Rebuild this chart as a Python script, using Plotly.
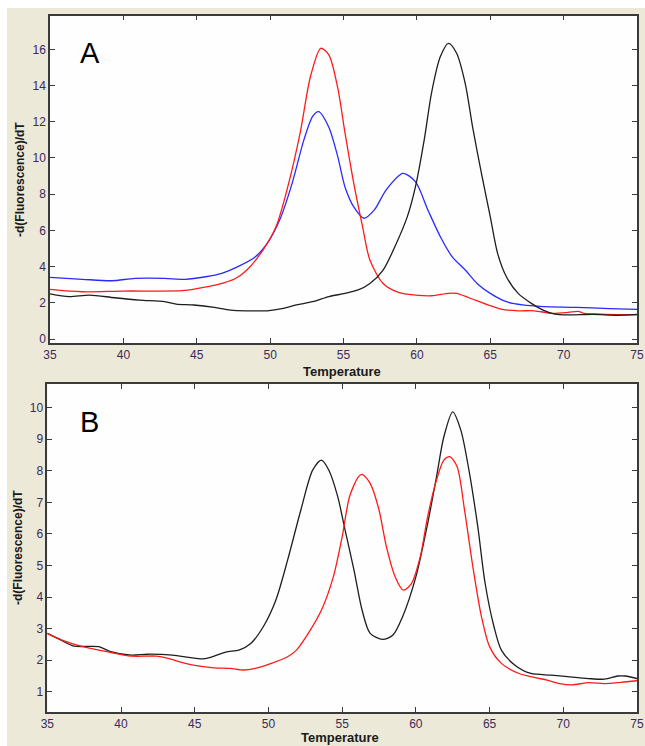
import plotly.graph_objects as go

# ---------------- Panel A data ----------------
a_red_t = [35, 37.2, 40, 44, 45, 46.4, 47.6, 48.4, 49.5, 50.4, 51.2, 52.05, 52.75, 53.45, 54.0, 54.6, 55.1,
           55.7, 56.3, 56.8, 57.7, 58.8, 59.9, 61.0, 62.15, 62.7, 63.55, 64.7, 65.8, 66.9, 68.0, 69.2, 70.3,
           71.0, 71.4, 72.5, 75]
a_red_v = [2.74, 2.61, 2.65, 2.67, 2.78, 3.0, 3.33, 3.8, 4.9, 6.2, 8.4, 11.4, 14.5, 16.06, 15.7, 13.9, 11.4,
           8.6, 6.2, 4.36, 3.07, 2.56, 2.43, 2.39, 2.52, 2.52, 2.28, 1.93, 1.64, 1.56, 1.56, 1.42, 1.47,
           1.53, 1.42, 1.38, 1.34]

a_blue_t = [35, 37.2, 39.2, 40.8, 42.8, 44.2, 45.6, 46.7, 47.8, 49.0, 49.8, 50.65, 51.5, 52.3, 52.9, 53.3,
            54.0, 54.6, 55.1, 55.7, 56.4, 57.1, 57.9, 59.05, 59.9, 60.75, 61.6, 62.4, 63.3, 64.1, 65.0, 66.1,
            67.2, 68.6, 70.85, 73.1, 75]
a_blue_v = [3.41, 3.30, 3.22, 3.35, 3.35, 3.30, 3.44, 3.63, 4.0, 4.55, 5.28, 6.57, 8.6, 11.0, 12.3, 12.56,
            11.7, 10.1, 8.4, 7.3, 6.67, 7.13, 8.23, 9.15, 8.69, 7.13, 5.65, 4.55, 3.81, 3.07, 2.52, 2.06,
            1.88, 1.79, 1.75, 1.68, 1.64]

a_black_t = [35, 36.3, 37.7, 39.4, 41.1, 42.8, 43.6, 44.8, 46.2, 47.3, 48.4, 49.8, 50.9, 51.8, 52.9, 54.0,
             55.1, 56.0, 56.8, 57.7, 58.5, 59.35, 59.9, 60.5, 61.0, 61.6, 62.15, 62.7, 63.3, 63.8, 64.4,
             65.0, 65.5, 66.1, 66.9, 67.8, 68.6, 69.4, 70.3, 72.0, 73.65, 75]
a_black_v = [2.49, 2.34, 2.43, 2.28, 2.15, 2.06, 1.93, 1.88, 1.75, 1.60, 1.56, 1.56, 1.69, 1.88, 2.06, 2.34,
             2.52, 2.71, 3.07, 3.81, 5.1, 6.76, 8.4, 11.0, 13.6, 15.6, 16.33, 15.8, 14.1, 11.7, 9.15,
             6.76, 4.73, 3.44, 2.52, 1.97, 1.60, 1.38, 1.33, 1.36, 1.31, 1.36]

# ---------------- Panel B data ----------------
b_black_t = [35, 35.7, 36.8, 38.5, 39.3, 40.7, 41.8, 43.5, 44.6, 45.5, 46.0, 47.1, 48.0, 48.8, 49.65, 50.5,
             51.3, 52.2, 53.0, 53.6, 54.1, 54.7, 55.2, 55.8, 56.35, 56.9, 57.75, 58.45, 59.1, 60.0, 60.8,
             61.4, 61.9, 62.5, 63.05, 63.6, 64.2, 64.7, 65.3, 65.8, 66.7, 67.8, 69.2, 70.3, 71.7, 72.8,
             73.7, 74.2, 75]
b_black_v = [2.85, 2.69, 2.45, 2.43, 2.27, 2.16, 2.19, 2.16, 2.09, 2.04, 2.08, 2.26, 2.32, 2.53, 3.06, 3.9,
             5.17, 6.76, 8.02, 8.34, 8.02, 7.18, 6.12, 4.86, 3.59, 2.85, 2.66, 2.80, 3.38, 4.64, 6.33,
             7.81, 9.08, 9.87, 9.29, 8.02, 6.23, 4.43, 3.06, 2.32, 1.85, 1.58, 1.53, 1.48, 1.42, 1.40,
             1.50, 1.50, 1.42]

b_red_t = [35, 36.0, 37.4, 39.05, 40.7, 42.4, 43.2, 44.1, 45.2, 46.3, 47.4, 48.3, 49.1, 50.2, 51.3, 51.9,
           52.7, 53.6, 54.4, 55.0, 55.5, 56.1, 56.35, 56.9, 57.5, 58.0, 58.6, 59.15, 59.7, 60.3, 60.8, 61.4,
           61.9, 62.3, 62.8, 63.3, 63.9, 64.45, 65.0, 65.8, 67.0, 68.1, 68.9, 69.75, 70.6, 71.7, 72.8,
           73.9, 75]
b_red_v = [2.85, 2.64, 2.43, 2.27, 2.13, 2.13, 2.06, 1.93, 1.82, 1.76, 1.74, 1.69, 1.74, 1.90, 2.11, 2.32,
           2.85, 3.59, 4.64, 5.91, 7.18, 7.81, 7.89, 7.6, 6.76, 5.6, 4.64, 4.22, 4.43, 5.28, 6.55, 7.71,
           8.34, 8.45, 8.13, 6.76, 4.86, 3.38, 2.43, 1.90, 1.58, 1.45, 1.37, 1.26, 1.22, 1.29, 1.26,
           1.30, 1.35]

x_ticks = [35, 40, 45, 50, 55, 60, 65, 70, 75]
a_y_ticks = [0, 2, 4, 6, 8, 10, 12, 14, 16]
b_y_ticks = [1, 2, 3, 4, 5, 6, 7, 8, 9, 10]

W, H = 645, 746
BEIGE = "#ECE9D8"
RED = "#ff1a1a"
BLUE = "#2a2aff"
BLACK = "#1e1e1e"
TICKCOL = "#3b2a5e"
FONT = "Liberation Sans Narrow, Liberation Sans, Arial, sans-serif"

fig = go.Figure()

def add(t, v, color, xa, ya):
    fig.add_trace(go.Scatter(x=t, y=v, mode="lines", xaxis=xa, yaxis=ya,
                             line=dict(color=color, width=1.3, shape="spline", smoothing=0.8),
                             showlegend=False, hoverinfo="skip"))

add(a_blue_t, a_blue_v, BLUE, "x", "y")
add(a_red_t, a_red_v, RED, "x", "y")
add(a_black_t, a_black_v, BLACK, "x", "y")
add(b_black_t, b_black_v, BLACK, "x2", "y2")
add(b_red_t, b_red_v, RED, "x2", "y2")

def px_x(p):
    return p / W

def px_y(p):
    return 1 - p / H

axis_common = dict(showgrid=False, zeroline=False, showline=True, mirror="ticks",
                   linecolor="#3a3a3a", linewidth=1.5, ticks="inside", ticklen=5,
                   tickcolor="#3a3a3a", tickwidth=1.2,
                   tickfont=dict(family=FONT, size=12, color=TICKCOL), automargin=False)

def label(text, x, y, size, family=FONT, angle=0, color="#1a1a1a"):
    return dict(text=text, x=px_x(x), y=px_y(y), xref="paper", yref="paper", showarrow=False,
                xanchor="center", yanchor="middle", textangle=angle,
                font=dict(family=family, size=size, color=color))

fig.update_layout(
    width=W, height=H,
    margin=dict(l=0, r=0, t=0, b=0),
    paper_bgcolor=BEIGE, plot_bgcolor="#fefefe",
    xaxis=dict(domain=[px_x(50), px_x(637)], range=[35, 75], tickvals=x_ticks, anchor="y", **axis_common),
    yaxis=dict(domain=[px_y(343), px_y(15.7)], range=[-0.22, 17.86], tickvals=a_y_ticks, anchor="x", **axis_common),
    xaxis2=dict(domain=[px_x(47.3), px_x(637)], range=[35, 75], tickvals=x_ticks, anchor="y2", **axis_common),
    yaxis2=dict(domain=[px_y(712), px_y(384)], range=[0.36, 10.75], tickvals=b_y_ticks, anchor="x2", **axis_common),
    shapes=[
        dict(type="rect", xref="paper", yref="paper", x0=0, x1=1, y0=px_y(8), y1=1,
             fillcolor="white", line=dict(width=0), layer="below"),
        dict(type="rect", xref="paper", yref="paper", x0=0, x1=px_x(7), y0=0, y1=1,
             fillcolor="white", line=dict(width=0), layer="below"),
    ],
    annotations=[
        label("A", 89.5, 53, 29, family="Liberation Sans, Arial", color="black"),
        label("B", 89.5, 422, 29, family="Liberation Sans, Arial", color="black"),
        label("<b>Temperature</b>", 342, 371, 13),
        label("<b>Temperature</b>", 340, 737, 13),
        label("<b>-d(Fluorescence)/dT</b>", 20, 180, 12, angle=-90),
        label("<b>-d(Fluorescence)/dT</b>", 18, 548, 12, angle=-90),
    ],
)

fig.write_html("out.html", config={"displayModeBar": False},
               post_script="document.body.style.margin='0px';document.body.style.overflow='hidden';")
